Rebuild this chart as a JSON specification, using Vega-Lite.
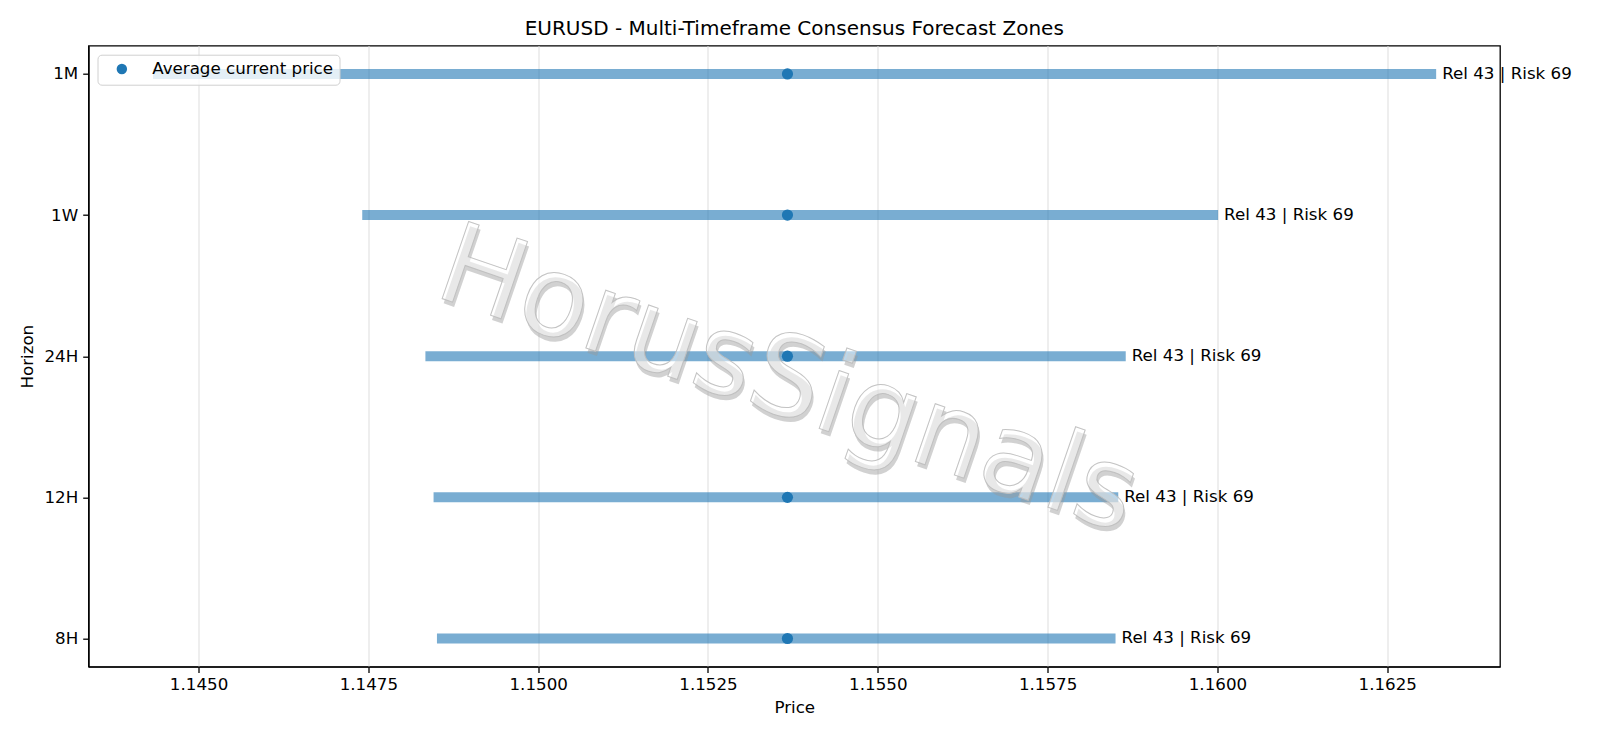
{
  "$schema": "https://vega.github.io/schema/vega-lite/v6.json",
  "width": 1411.5,
  "height": 621,
  "autosize": {"type": "none"},
  "padding": {"left": 88.5, "top": 45.7, "right": 100, "bottom": 71.3},
  "background": "white",
  "title": {
    "text": "EURUSD - Multi-Timeframe Consensus Forecast Zones",
    "font": "DejaVu Sans",
    "fontSize": 20,
    "fontWeight": "normal",
    "color": "black",
    "offset": 7
  },
  "config": {
    "view": {"stroke": "black", "strokeWidth": 1.3},
    "axis": {
      "labelFont": "DejaVu Sans",
      "titleFont": "DejaVu Sans",
      "labelFontSize": 16.7,
      "titleFontSize": 16.7,
      "titleFontWeight": "normal",
      "labelColor": "black",
      "titleColor": "black",
      "domainColor": "black",
      "domainWidth": 1.3,
      "tickColor": "black",
      "tickWidth": 1.3,
      "tickSize": 5.8
    },
    "legend": {
      "labelFont": "DejaVu Sans",
      "labelFontSize": 16.7,
      "labelColor": "black",
      "labelLimit": 0
    }
  },
  "data": {
    "values": [
      {"horizon": "1M", "low": 1.14433, "high": 1.16322, "current": 1.15367, "note": "Rel 43 | Risk 69"},
      {"horizon": "1W", "low": 1.14741, "high": 1.16001, "current": 1.15367, "note": "Rel 43 | Risk 69"},
      {"horizon": "24H", "low": 1.14834, "high": 1.15865, "current": 1.15367, "note": "Rel 43 | Risk 69"},
      {"horizon": "12H", "low": 1.14846, "high": 1.15854, "current": 1.15367, "note": "Rel 43 | Risk 69"},
      {"horizon": "8H", "low": 1.14851, "high": 1.15850, "current": 1.15367, "note": "Rel 43 | Risk 69"}
    ]
  },
  "encoding": {
    "y": {
      "field": "horizon",
      "type": "nominal",
      "title": "Horizon",
      "sort": ["1M", "1W", "24H", "12H", "8H"],
      "scale": {"type": "point", "domain": ["1M", "1W", "24H", "12H", "8H"], "padding": 0.2},
      "axis": {"grid": false, "labelPadding": 5, "titlePadding": 7}
    }
  },
  "layer": [
    {
      "mark": {"type": "rule", "strokeWidth": 10, "color": "#1f77b4", "opacity": 0.6, "strokeCap": "butt"},
      "encoding": {
        "x": {
          "field": "low",
          "type": "quantitative",
          "title": "Price",
          "scale": {"domain": [1.14338, 1.16416], "nice": false, "zero": false},
          "axis": {
            "values": [1.145, 1.1475, 1.15, 1.1525, 1.155, 1.1575, 1.16, 1.1625],
            "format": ".4f",
            "grid": true,
            "gridColor": "#e3e3e3",
            "gridWidth": 1.2,
            "labelPadding": 4,
            "titlePadding": 6
          }
        },
        "x2": {"field": "high"}
      }
    },
    {
      "mark": {"type": "point", "filled": true, "size": 125, "opacity": 1},
      "encoding": {
        "x": {"field": "current", "type": "quantitative"},
        "color": {
          "datum": "Average current price",
          "scale": {"range": ["#1f77b4"]},
          "legend": {
            "title": null,
            "orient": "top-left",
            "offset": 9,
            "symbolType": "circle",
            "symbolSize": 110,
            "symbolOffset": 10,
            "labelOffset": 22,
            "padding": 6,
            "fillColor": "rgba(255,255,255,0.8)",
            "strokeColor": "#d0d0d0",
            "cornerRadius": 4
          }
        }
      }
    },
    {
      "mark": {"type": "text", "align": "left", "baseline": "middle", "dx": 6, "font": "DejaVu Sans", "fontSize": 16.7, "color": "black"},
      "encoding": {
        "x": {"field": "high", "type": "quantitative"},
        "text": {"field": "note"}
      }
    },
    {
      "data": {"values": [{"mark": "HorusSignals", "px": 1.15381, "row": "24H"}]},
      "mark": {"type": "text", "align": "center", "baseline": "middle", "angle": 19, "dx": 3, "dy": 31, "font": "DejaVu Sans", "fontSize": 112, "fill": "#9a9a9a", "fillOpacity": 0.45},
      "encoding": {
        "x": {"field": "px", "type": "quantitative"},
        "y": {"field": "row", "type": "nominal"},
        "text": {"field": "mark"}
      }
    },
    {
      "data": {"values": [{"mark": "HorusSignals", "px": 1.15381, "row": "24H"}]},
      "mark": {"type": "text", "align": "center", "baseline": "middle", "angle": 19, "dy": 27, "font": "DejaVu Sans", "fontSize": 112, "fill": "white", "fillOpacity": 0.5, "stroke": "#bdbdbd", "strokeWidth": 1, "strokeOpacity": 0.9},
      "encoding": {
        "x": {"field": "px", "type": "quantitative"},
        "y": {"field": "row", "type": "nominal"},
        "text": {"field": "mark"}
      }
    }
  ]
}
